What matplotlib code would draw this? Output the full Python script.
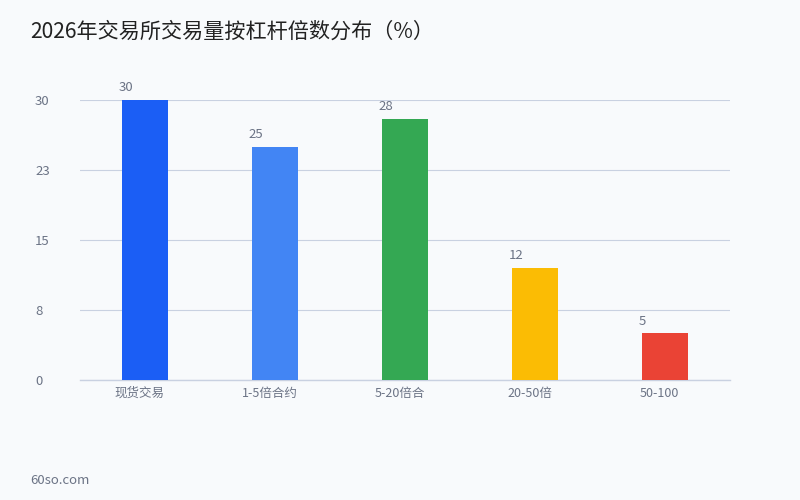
import matplotlib
matplotlib.use('Agg')
import matplotlib.pyplot as plt
import matplotlib.transforms as mtransforms
import numpy as np

plt.rcParams['font.family'] = ['Noto Sans CJK SC', 'DejaVu Sans']

title = '2026年交易所交易量按杠杆倍数分布（%）'
categories = ['现货交易', '1-5倍合约', '5-20倍合', '20-50倍', '50-100']
values = [30, 25, 28, 12, 5]
bar_colors = ['#1B5EF5', '#4285F4', '#34A853', '#FBBC04', '#EA4335']
y_ticks = [0, 7.5, 15, 22.5, 30]
y_tick_labels = ['0', '8', '15', '23', '30']

bg = '#F8FAFC'
grid_color = '#C9D1E1'
label_color = '#6B7385'

fig = plt.figure(figsize=(8, 5), dpi=100, facecolor=bg)
ax = fig.add_axes([0.1, 0.24, 0.8125, 0.56], facecolor=bg)

x = np.arange(len(categories))
width = 0.354
bars = ax.bar(x, values, width=width, color=bar_colors, zorder=3)

ax.set_xlim(-0.5, len(categories) - 0.5)
ax.set_ylim(0, 30)
ax.set_yticks(y_ticks)
ax.set_yticklabels(y_tick_labels, ha='left')
ax.set_xticks(x)
ax.set_xticklabels(categories)
ax.tick_params(axis='y', length=0, pad=32.4, labelsize=9.5, labelcolor=label_color)
ax.tick_params(axis='x', length=0, pad=5, labelsize=9, labelcolor=label_color)

# x labels in the reference sit a few pixels left of the bar centres
shift = mtransforms.ScaledTranslation(-5.5 / 100, 0, fig.dpi_scale_trans)
for lbl in ax.get_xticklabels():
    lbl.set_transform(lbl.get_transform() + shift)

for s in ['top', 'right', 'left']:
    ax.spines[s].set_visible(False)
ax.spines['bottom'].set_color(grid_color)
ax.spines['bottom'].set_linewidth(1)
ax.yaxis.grid(True, color=grid_color, linewidth=0.8, zorder=0)
ax.set_axisbelow(True)

# value labels sit a bit left of each bar, as in the reference
for b, v in zip(bars, values):
    ax.annotate(str(v), (b.get_x(), b.get_height()), xytext=(-2.5, 4),
                textcoords='offset points', ha='left', va='bottom',
                fontsize=9.5, color=label_color)

fig.text(30 / 800, 1 - 32 / 500, title, fontsize=15.2, color='#222222',
         ha='left', va='center')
fig.text(30 / 800, 1 - 480 / 500, '60so.com', fontsize=9.5, color=label_color,
         ha='left', va='center')

fig.savefig('out.png', dpi=100, facecolor=bg)
